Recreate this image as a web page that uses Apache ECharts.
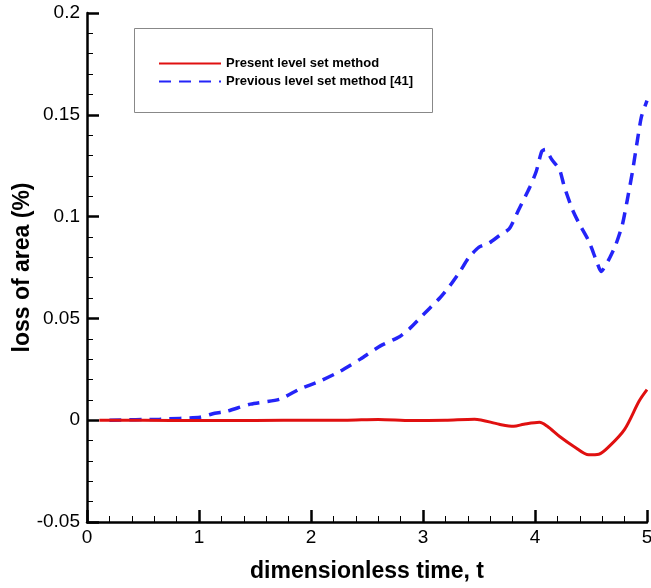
<!DOCTYPE html>
<html>
<head>
<meta charset="utf-8">
<script src="https://cdn.jsdelivr.net/npm/echarts@6/dist/echarts.min.js"></script>
<style>html,body{margin:0;padding:0;background:#fff;overflow:hidden}#c{width:651px;height:588px}</style>
</head>
<body>
<div id="c"></div>
<script>
// Present level set method (red, solid)
var presentT = [0.11, 0.5, 1.0, 1.5, 2.0, 2.3, 2.6, 2.9, 3.2, 3.46, 3.68, 3.81, 3.9, 4.04, 4.11, 4.22, 4.35, 4.48, 4.57, 4.66, 4.8, 4.93, 5.0];
var presentV = [0, 0, -0.0002, -0.0001, 0, 0, 0.0004, -0.0002, 0, 0.0005, -0.002, -0.003, -0.002, -0.001, -0.003, -0.008, -0.013, -0.017, -0.0167, -0.013, -0.0045, 0.0094, 0.015];
// Previous level set method [41] (blue, dashed)
var previousT = [0.2, 0.65, 1.01, 1.14, 1.25, 1.46, 1.72, 1.9, 2.08, 2.26, 2.44, 2.62, 2.79, 2.88, 2.97, 3.06, 3.15, 3.24, 3.33, 3.41, 3.5, 3.59, 3.68, 3.77, 3.86, 3.95, 4.01, 4.06, 4.09, 4.15, 4.22, 4.26, 4.33, 4.39, 4.48, 4.55, 4.59, 4.66, 4.72, 4.78, 4.82, 4.87, 4.91, 4.95, 5.0];
var previousV = [0, 0.0005, 0.0015, 0.0034, 0.0044, 0.0079, 0.0103, 0.0153, 0.0192, 0.024, 0.030, 0.0365, 0.041, 0.045, 0.050, 0.055, 0.060, 0.066, 0.073, 0.080, 0.085, 0.087, 0.0906, 0.094, 0.104, 0.114, 0.122, 0.132, 0.133, 0.128, 0.123, 0.115, 0.104, 0.097, 0.088, 0.078, 0.073, 0.079, 0.086, 0.096, 0.107, 0.122, 0.136, 0.149, 0.157];
var seriesNames = ['Present level set method', 'Previous level set method [41]'];
var xTitle = 'dimensionless time, t';
var yTitle = 'loss of area (%)';

function pairs(t, v) { return t.map(function (x, i) { return [x, v[i]]; }); }

var chart = echarts.init(document.getElementById('c'), null, {renderer: 'canvas'});
var font = 'Liberation Sans, Arial, Helvetica, sans-serif';
var axisCommon = {
  axisLine: {show: true, onZero: false, lineStyle: {color: '#000', width: 2.5}},
  axisTick: {show: true, inside: true, length: 12, lineStyle: {color: '#000', width: 2.5}},
  minorTick: {show: true, splitNumber: 5, length: 6, lineStyle: {color: '#000', width: 1}},
  splitLine: {show: false},
  minorSplitLine: {show: false},
  nameMoveOverlap: false
};
chart.setOption({
  animation: false,
  backgroundColor: '#fff',
  grid: {left: 87, right: 4, top: 13, bottom: 66, containLabel: false, outerBoundsMode: 'none'},
  graphic: [{
    type: 'rect', left: 132, top: 26, z: 10,
    shape: {width: 298, height: 84},
    style: {fill: 'none', stroke: '#888', lineWidth: 1}
  }],
  legend: {
    orient: 'vertical', left: 158, top: 57, padding: 0, itemWidth: 62, itemHeight: 12, itemGap: 5,
    itemStyle: {opacity: 0},
    textStyle: {fontFamily: font, fontWeight: 'bold', fontSize: 13, color: '#000'},
    data: seriesNames
  },
  xAxis: Object.assign({
    type: 'value', min: 0, max: 5, interval: 1,
    name: xTitle, nameLocation: 'middle', nameGap: 38,
    nameTextStyle: {fontFamily: font, fontWeight: 'bold', fontSize: 23, color: '#000'},
    axisLabel: {fontFamily: font, fontSize: 19, color: '#000', margin: 6}
  }, axisCommon),
  yAxis: Object.assign({
    type: 'value', min: -0.05, max: 0.2, interval: 0.05,
    name: yTitle, nameLocation: 'middle', nameGap: 53, nameRotate: 90,
    nameTextStyle: {fontFamily: font, fontWeight: 'bold', fontSize: 23, color: '#000'},
    axisLabel: {fontFamily: font, fontSize: 19, color: '#000', margin: 7,
      formatter: function (v) { return String(Math.round(v * 100) / 100); }}
  }, axisCommon),
  series: [{
    name: seriesNames[0], type: 'line', symbol: 'none', smooth: 0.3,
    data: pairs(presentT, presentV),
    lineStyle: {color: '#e01010', width: 3},
    itemStyle: {color: '#e01010'}, z: 3
  }, {
    name: seriesNames[1], type: 'line', symbol: 'none', smooth: 0.2,
    data: pairs(previousT, previousV),
    lineStyle: {color: '#2424f8', width: 3.5, type: [12, 8]},
    itemStyle: {color: '#2424f8'}, z: 2
  }]
});
</script>
</body>
</html>
